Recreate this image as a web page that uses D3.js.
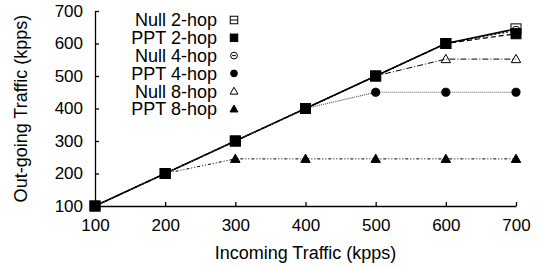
<!DOCTYPE html>
<html>
<head>
<meta charset="utf-8">
<script src="https://cdn.jsdelivr.net/npm/d3@7"></script>
<style>
  body { margin: 0; background: #fff; }
  svg { font-family: "Liberation Sans", Arial, sans-serif; }
</style>
</head>
<body>
<div id="chart"></div>
<script>
// incoming traffic (kpps)
const incoming = [100, 200, 300, 400, 500, 600, 700];

// out-going traffic per series (kpps)
const null2 = [100, 200, 300, 400, 500, 600, 645];
const ppt2  = [100, 200, 300, 400, 500, 600, 630];
const null4 = [100, 200, 300, 400, 500, 600, 640];
const ppt4  = [100, 200, 300, 400, 450, 450, 450];
const null8 = [100, 200, 300, 400, 500, 552, 552];
const ppt8  = [100, 200, 245, 245, 245, 245, 245];

const seriesNames = ["Null 2-hop", "PPT 2-hop", "Null 4-hop", "PPT 4-hop", "Null 8-hop", "PPT 8-hop"];
const yTicks = [100, 200, 300, 400, 500, 600, 700];

const series = [
  { name: seriesNames[0], values: null2, shape: "sqOpen",  dash: null,          color: "#000", width: 1.5 },
  { name: seriesNames[1], values: ppt2,  shape: "sq",      dash: "5,3",         color: "#000", width: 1.2 },
  { name: seriesNames[2], values: null4, shape: "circOpen", dash: "2,2",        color: "#000", width: 1.2 },
  { name: seriesNames[3], values: ppt4,  shape: "circ",    dash: "1,1",         color: "#555", width: 1.2 },
  { name: seriesNames[4], values: null8, shape: "triOpen", dash: "6,2,1,2",     color: "#000", width: 1 },
  { name: seriesNames[5], values: ppt8,  shape: "tri",     dash: "3,2,1,2,1,2", color: "#000", width: 1 }
];

const width = 542, height = 268;
const svg = d3.select("#chart").append("svg")
  .attr("width", width)
  .attr("height", height);

const x = d3.scaleLinear().domain([100, 700]).range([95, 516]);
const y = d3.scaleLinear().domain([100, 700]).range([206, 11]);

// axes, ticks pointing inward
svg.append("g")
  .attr("transform", `translate(0,${y(100)})`)
  .call(d3.axisBottom(x).tickValues(incoming).tickSizeInner(-4).tickSizeOuter(0).tickPadding(13))
  .call(g => g.selectAll("text").attr("font-size", 17).attr("fill", "#000"))
  .call(g => g.selectAll("line, path").attr("stroke", "#000").attr("stroke-width", 1.3));

svg.append("g")
  .attr("transform", `translate(${x(100)},0)`)
  .call(d3.axisLeft(y).tickValues(yTicks).tickSizeInner(-4).tickSizeOuter(0).tickPadding(12))
  .call(g => g.selectAll("text").attr("font-size", 17).attr("fill", "#000"))
  .call(g => g.selectAll("line, path").attr("stroke", "#000").attr("stroke-width", 1.3));

svg.selectAll(".domain").attr("fill", "none");

// axis titles
svg.append("text")
  .attr("x", (x(100) + x(700)) / 2)
  .attr("y", 259)
  .attr("text-anchor", "middle")
  .attr("font-size", 18)
  .text("Incoming Traffic (kpps)");

svg.append("text")
  .attr("transform", "rotate(-90)")
  .attr("x", -(y(100) + y(700)) / 2)
  .attr("y", 27)
  .attr("text-anchor", "middle")
  .attr("font-size", 18)
  .text("Out-going Traffic (kpps)");

// lines
const line = d3.line()
  .x((d, i) => x(incoming[i]))
  .y(d => y(d));

series.forEach(s => {
  svg.append("path")
    .datum(s.values)
    .attr("fill", "none")
    .attr("stroke", s.color)
    .attr("stroke-width", s.width)
    .attr("stroke-dasharray", s.dash)
    .attr("d", line);
});

// marker drawing
function drawMarker(g, shape, cx, cy, size) {
  const h = size / 2;
  if (shape === "sq" || shape === "sqOpen") {
    g.append("rect")
      .attr("x", cx - h).attr("y", cy - h)
      .attr("width", size).attr("height", size)
      .attr("fill", shape === "sq" ? "#000" : "none")
      .attr("stroke", "#000").attr("stroke-width", 1);
    if (shape === "sqOpen") {
      g.append("line").attr("x1", cx - h).attr("x2", cx + h)
        .attr("y1", cy).attr("y2", cy).attr("stroke", "#000").attr("stroke-width", 1);
    }
  } else if (shape === "circ" || shape === "circOpen") {
    g.append("circle")
      .attr("cx", cx).attr("cy", cy).attr("r", h * 0.9)
      .attr("fill", shape === "circ" ? "#000" : "none")
      .attr("stroke", "#000").attr("stroke-width", 1);
    if (shape === "circOpen") {
      g.append("line").attr("x1", cx - h * 0.5).attr("x2", cx + h * 0.5)
        .attr("y1", cy).attr("y2", cy).attr("stroke", "#000").attr("stroke-width", 1);
    }
  } else {
    const t = h * 1.05;
    g.append("path")
      .attr("d", `M${cx},${cy - t}L${cx + t},${cy + t * 0.75}L${cx - t},${cy + t * 0.75}Z`)
      .attr("fill", shape === "tri" ? "#000" : "none")
      .attr("stroke", "#000").attr("stroke-width", 1);
  }
}

const marks = svg.append("g");
series.forEach(s => {
  s.values.forEach((v, i) => {
    drawMarker(marks, s.shape, x(incoming[i]), y(v), s.shape.startsWith("sq") ? 10 : 9);
  });
});

// legend: text right-aligned, marker only
const legend = svg.append("g");
series.forEach((s, i) => {
  const ly = 20 + i * 17.8;
  legend.append("text")
    .attr("x", 217)
    .attr("y", ly)
    .attr("dy", "0.36em")
    .attr("text-anchor", "end")
    .attr("font-size", 18)
    .text(s.name);
  drawMarker(legend, s.shape, 234, ly, 7.5);
});
</script>
</body>
</html>
